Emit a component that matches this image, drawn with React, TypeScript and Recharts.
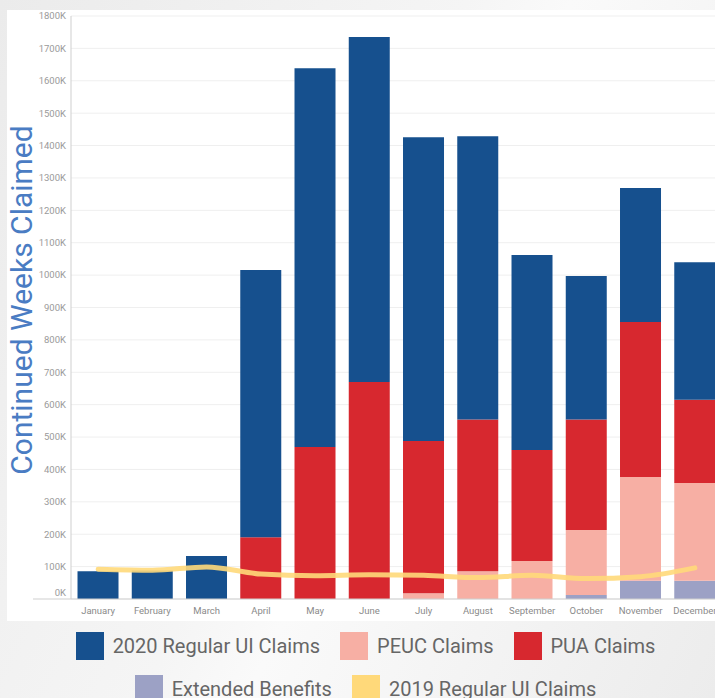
import React from "react";
import { Bar, CartesianGrid, ComposedChart, Label, Line, XAxis, YAxis } from "recharts";

const months = [
  "January", "February", "March", "April", "May", "June",
  "July", "August", "September", "October", "November", "December",
];
const regular2020 = [86000, 88000, 133000, 825000, 1170000, 1065000, 938000, 875000, 602000, 443000, 414000, 425000];
const puaClaims = [0, 0, 0, 191000, 469000, 670000, 470000, 468000, 343000, 341000, 478000, 257000];
const peucClaims = [0, 0, 0, 0, 0, 0, 18000, 86000, 117000, 201000, 321000, 302000];
const extendedBenefits = [0, 0, 0, 0, 0, 0, 0, 0, 0, 12000, 56000, 56000];
const regular2019 = [92000, 89000, 99000, 77000, 72000, 75000, 73000, 66000, 73000, 63000, 69000, 96000];
const yTicks = [0, 100000, 200000, 300000, 400000, 500000, 600000, 700000, 800000, 900000, 1000000,
  1100000, 1200000, 1300000, 1400000, 1500000, 1600000, 1700000, 1800000];

const COLORS = {
  regular2020: "#16508e",
  peuc: "#f7afa4",
  pua: "#d7282f",
  extended: "#9ca1c5",
  regular2019: "#ffd97a",
};

const data = months.map((m, i) => ({
  month: m,
  extended: extendedBenefits[i],
  peuc: peucClaims[i],
  pua: puaClaims[i],
  regular2020: regular2020[i],
  regular2019: regular2019[i],
}));

const legendRows = [
  [
    { label: "2020 Regular UI Claims", color: COLORS.regular2020 },
    { label: "PEUC Claims", color: COLORS.peuc },
    { label: "PUA Claims", color: COLORS.pua },
  ],
  [
    { label: "Extended Benefits", color: COLORS.extended },
    { label: "2019 Regular UI Claims", color: COLORS.regular2019 },
  ],
];

function AxisTitle(props: any) {
  const vb = props.viewBox || {};
  const bottom = vb.y + vb.height;
  return (
    <g>
      <line x1={33} x2={vb.x + vb.width} y1={bottom} y2={bottom} stroke="#cfcfcf" />
      <text
        x={32}
        y={300}
        transform="rotate(-90 32 300)"
        textAnchor="middle"
        fontSize={30}
        fill="#4a7cc3"
        fontFamily="Roboto, sans-serif"
      >
        Continued Weeks Claimed
      </text>
    </g>
  );
}

// tableau nudges the zero label up off the axis line
function YTick(props: any) {
  const { x, y, payload } = props;
  const v = payload.value;
  return (
    <text x={x} y={v === 0 ? y - 6 : y} dy="0.355em" textAnchor="end" fontSize={9.5} fill="#9a9a9a">
      {`${v / 1000}K`}
    </text>
  );
}

export default function App() {
  return (
    <div
      style={{
        position: "absolute",
        left: 0,
        top: 0,
        width: 715,
        height: 698,
        overflow: "hidden",
        background: "linear-gradient(115deg, #ebebeb 0%, #f5f5f5 45%, #fafafa 55%, #ececec 100%)",
        fontFamily: "Roboto, sans-serif",
      }}
    >
      <div style={{ position: "absolute", left: 7, top: 10, width: 720, height: 611, background: "#fff" }} />
      <div style={{ position: "absolute", left: 0, top: 0 }}>
        <ComposedChart
          width={722}
          height={620}
          data={data}
          margin={{ top: 16, right: 0, bottom: 0, left: 0 }}
          barCategoryGap="12%"
        >
          <CartesianGrid vertical={false} stroke="#efefef" />
          <XAxis
            dataKey="month"
            height={21}
            tickLine={false}
            axisLine={{ stroke: "#cfcfcf" }}
            tick={{ fontSize: 9.5, fill: "#8a8a8a" }}
            interval={0}
          />
          <YAxis
            width={71}
            domain={[0, 1800000]}
            ticks={yTicks}
            interval={0}
            tickLine={false}
            tickSize={3}
            tickMargin={2}
            axisLine={{ stroke: "#cfcfcf" }}
            tick={YTick}
          >
            <Label content={AxisTitle} />
          </YAxis>
          <Bar dataKey="extended" stackId="a" fill={COLORS.extended} isAnimationActive={false} />
          <Bar dataKey="peuc" stackId="a" fill={COLORS.peuc} isAnimationActive={false} />
          <Bar dataKey="pua" stackId="a" fill={COLORS.pua} isAnimationActive={false} />
          <Bar dataKey="regular2020" stackId="a" fill={COLORS.regular2020} isAnimationActive={false} />
          <Line
            type="monotone"
            dataKey="regular2019"
            stroke={COLORS.regular2019}
            strokeWidth={5}
            strokeOpacity={0.9}
            strokeLinecap="round"
            dot={false}
            activeDot={false}
            isAnimationActive={false}
          />
        </ComposedChart>
      </div>
      <div style={{ position: "absolute", left: 8, top: 632, width: 715 }}>
        {legendRows.map((row, r) => (
          <div
            key={r}
            style={{ display: "flex", justifyContent: "center", alignItems: "center", height: 28, marginBottom: 15 }}
          >
            {row.map((item) => (
              <div key={item.label} style={{ display: "flex", alignItems: "center", margin: "0 10px" }}>
                <div style={{ width: 28, height: 28, background: item.color, marginRight: 9 }} />
                <span style={{ fontSize: 20, color: "#666", lineHeight: "28px" }}>{item.label}</span>
              </div>
            ))}
          </div>
        ))}
      </div>
    </div>
  );
}
